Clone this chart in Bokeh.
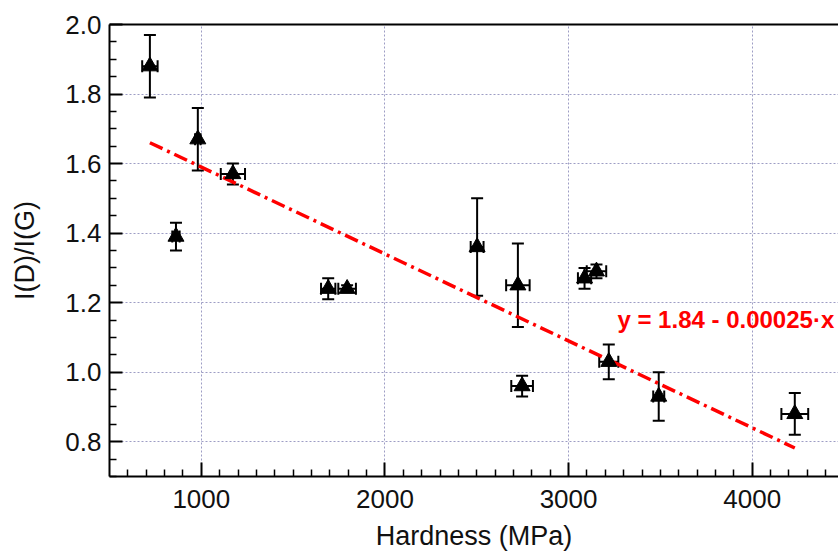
from bokeh.plotting import figure
from bokeh.models import (ColumnDataSource, Whisker, TeeHead, FixedTicker, LinearAxis,
                          Label, Range1d, CustomJSTickFormatter)
from bokeh.embed import file_html
from bokeh.resources import INLINE

# ---- data ----
hardness = [720, 862, 981, 1172, 1691, 1794, 2502, 2724, 2747, 3087, 3152, 3219, 3491, 4232]
ratio    = [1.88, 1.39, 1.67, 1.57, 1.24, 1.24, 1.36, 1.25, 0.96, 1.27, 1.29, 1.03, 0.93, 0.88]
ratio_err = [0.09, 0.04, 0.09, 0.03, 0.03, 0.01, 0.14, 0.12, 0.03, 0.03, 0.02, 0.05, 0.07, 0.06]
hard_err  = [42, 20, 15, 66, 39, 48, 35, 64, 59, 36, 53, 52, 30, 73]

fit_intercept = 1.84
fit_slope = -0.00025
fit_text = "y = 1.84 - 0.00025·x"

x_ticks = [1000, 2000, 3000, 4000]
y_ticks = [0.8, 1.0, 1.2, 1.4, 1.6, 1.8, 2.0]

FONT = "Liberation Sans"

p = figure(width=838, height=553, output_backend="svg", toolbar_location=None,
           x_range=Range1d(500, 4470), y_range=Range1d(0.7, 2.0),
           min_border_left=109, min_border_right=0, min_border_top=24, min_border_bottom=77,
           background_fill_color="white", border_fill_color="white")
p.outline_line_color = None

src = ColumnDataSource(dict(
    x=hardness, y=ratio,
    yl=[r - e for r, e in zip(ratio, ratio_err)], yu=[r + e for r, e in zip(ratio, ratio_err)],
    xl=[h - e for h, e in zip(hardness, hard_err)], xu=[h + e for h, e in zip(hardness, hard_err)],
))

# grid
for g in (p.xgrid, p.ygrid):
    g.grid_line_color = "#9d9dc4"
    g.grid_line_dash = "2 2"
    g.grid_line_width = 1
p.xgrid.ticker = FixedTicker(ticks=x_ticks)
p.ygrid.ticker = FixedTicker(ticks=y_ticks[:-1])

# axes
minor_x = [v for v in range(600, 4500, 100) if v % 1000 != 0]
minor_y = [round(0.7 + 0.05 * i, 2) for i in range(27)]
minor_y = [v for v in minor_y if round(v * 100) % 20 != 0]

xa = p.xaxis[0]
xa.ticker = FixedTicker(ticks=x_ticks, minor_ticks=minor_x)
ya = p.yaxis[0]
ya.ticker = FixedTicker(ticks=y_ticks, minor_ticks=minor_y)
ya.formatter = CustomJSTickFormatter(code="return tick.toFixed(1);")

for ax in (xa, ya):
    ax.axis_line_width = 2
    ax.axis_line_color = "black"
    ax.major_tick_in = 14
    ax.major_tick_out = 0
    ax.minor_tick_in = 7
    ax.minor_tick_out = 0
    ax.major_tick_line_width = 2
    ax.minor_tick_line_width = 1.5
    ax.major_tick_line_color = "black"
    ax.minor_tick_line_color = "black"
    ax.major_label_text_font = FONT
    ax.major_label_text_font_size = "26px"
    ax.major_label_text_color = "#111111"
    ax.axis_label_text_font = FONT
    ax.axis_label_text_font_size = "27px"
    ax.axis_label_text_font_style = "normal"
    ax.axis_label_text_color = "#111111"

ya.major_tick_in = 13
xa.axis_label = "Hardness (MPa)"
ya.axis_label = "I(D)/I(G)"
xa.major_label_standoff = 13
ya.major_label_standoff = 8
xa.axis_label_standoff = 10
ya.axis_label_standoff = 22

top = LinearAxis(ticker=FixedTicker(ticks=[]), axis_line_width=2, axis_line_color="black",
                 major_tick_line_color=None, minor_tick_line_color=None,
                 major_label_standoff=0)
p.add_layout(top, "above")

# fit line
fx = [min(hardness), max(hardness)]
fy = [fit_intercept + fit_slope * v for v in fx]
p.line(fx, fy, line_color="#ff0000", line_width=3.5, line_dash="14 5 3 5")

# error bars
p.add_layout(Whisker(source=src, base="x", lower="yl", upper="yu", dimension="height",
                     line_color="black", line_width=2,
                     upper_head=TeeHead(size=12, line_width=2, line_color="black"),
                     lower_head=TeeHead(size=12, line_width=2, line_color="black")))
p.add_layout(Whisker(source=src, base="y", lower="xl", upper="xu", dimension="width",
                     line_color="black", line_width=2,
                     upper_head=TeeHead(size=12, line_width=2, line_color="black"),
                     lower_head=TeeHead(size=12, line_width=2, line_color="black")))

p.scatter("x", "y", source=src, marker="triangle", size=16, fill_color="black",
          line_color="black", line_width=1)

p.add_layout(Label(x=3266, y=1.152, text=fit_text, text_color="#ff0000",
                   text_font=FONT, text_font_size="24px", text_font_style="bold",
                   text_baseline="alphabetic"))

open("out.html", "w").write(file_html(p, INLINE))
